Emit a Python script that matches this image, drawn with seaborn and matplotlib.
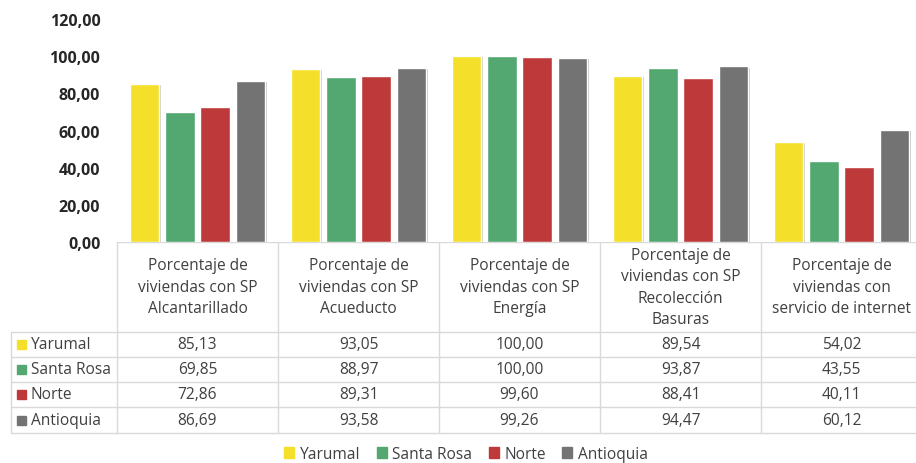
import numpy as np
import pandas as pd
import seaborn as sns
import matplotlib.pyplot as plt
from matplotlib.patches import Patch, Rectangle
from matplotlib import patheffects as pe

# ======================
# Data
# ======================
servicios = [
    "Porcentaje de\nviviendas con SP\nAlcantarillado",
    "Porcentaje de\nviviendas con SP\nAcueducto",
    "Porcentaje de\nviviendas con SP\nEnergía",
    "Porcentaje de\nviviendas con SP\nRecolección\nBasuras",
    "Porcentaje de\nviviendas con\nservicio de internet",
]
regiones = ["Yarumal", "Santa Rosa", "Norte", "Antioquia"]

yarumal = [85.13, 93.05, 100.00, 89.54, 54.02]
santa_rosa = [69.85, 88.97, 100.00, 93.87, 43.55]
norte = [72.86, 89.31, 99.60, 88.41, 40.11]
antioquia = [86.69, 93.58, 99.26, 94.47, 60.12]

y_ticks = [0, 20, 40, 60, 80, 100, 120]

colores = ["#F4DF2B", "#52A870", "#BE3A3A", "#737373"]
TXT = "#404040"
GRID = "#D9D9D9"
FS = 11.2

series = [yarumal, santa_rosa, norte, antioquia]
df = pd.DataFrame({
    "servicio": servicios * len(regiones),
    "region": np.repeat(regiones, len(servicios)),
    "valor": np.concatenate(series),
})


def fmt(v):
    return f"{v:.2f}".replace(".", ",")


# ======================
# Figure
# ======================
sns.set_style("white")
plt.rcParams["font.family"] = ["Open Sans", "DejaVu Sans"]

W, H = 916, 464
fig = plt.figure(figsize=(W / 100, H / 100), dpi=100)

# layout in pixels
X0, COLW = 117, 161
Y0, Y120 = 243, 20
ax = fig.add_axes([X0 / W, 1 - Y0 / H, COLW * 5 / W, (Y0 - Y120) / H])

sns.barplot(
    data=df, x="servicio", y="valor", hue="region",
    order=servicios, hue_order=regiones, palette=colores,
    saturation=1, width=0.875, gap=0.17, legend=False, ax=ax,
)
for bar in ax.patches:
    bar.set_path_effects([pe.SimplePatchShadow(offset=(1.2, -0.8), alpha=0.25), pe.Normal()])

ax.set_xlim(-0.5, len(servicios) - 0.5)
ax.set_ylim(0, 120)
ax.set_yticks(y_ticks)
ax.set_yticklabels([fmt(t) for t in y_ticks], fontweight="bold", color="#262626", fontsize=11.5)
ax.set_xticks([])
ax.set_xlabel("")
ax.set_ylabel("")
ax.tick_params(axis="y", length=0, pad=12)
sns.despine(ax=ax, left=True, bottom=True)

# ======================
# Data table
# ======================
tax = fig.add_axes([0, 0, 1, 1], zorder=-1)
tax.set_xlim(0, W)
tax.set_ylim(H, 0)
tax.axis("off")

row_lines = [332.7, 357.7, 383, 408, 434]
XL = 11
tax.plot([X0, W], [Y0, Y0], color=GRID, lw=1)
for y in row_lines:
    tax.plot([XL, W], [y, y], color=GRID, lw=1)
for i in range(len(servicios) + 1):
    x = X0 + i * COLW
    tax.plot([x, x], [Y0, row_lines[-1]], color=GRID, lw=1)
tax.plot([XL, XL], [row_lines[0], row_lines[-1]], color=GRID, lw=1)

for i, s in enumerate(servicios):
    tax.text(X0 + (i + 0.5) * COLW, (Y0 + row_lines[0]) / 2, s,
             ha="center", va="center", fontsize=FS, color=TXT, linespacing=1.45)

for r, (reg, vals, c) in enumerate(zip(regiones, series, colores)):
    yc = (row_lines[r] + row_lines[r + 1]) / 2
    tax.add_patch(Rectangle((17, yc - 4.5), 9, 9, color=c))
    tax.text(31, yc, reg, ha="left", va="center", fontsize=FS, color=TXT)
    for i, v in enumerate(vals):
        tax.text(X0 + (i + 0.5) * COLW, yc, fmt(v),
                 ha="center", va="center", fontsize=FS, color=TXT)

# ======================
# Legend
# ======================
handles = [Patch(color=c) for c in colores]
leg = fig.legend(
    handles, regiones, ncol=4, loc="center",
    bbox_to_anchor=(466 / W, 1 - 455 / H), frameon=False,
    handlelength=0.65, handleheight=0.65, handletextpad=0.35,
    columnspacing=1.05, fontsize=FS,
)
for t in leg.get_texts():
    t.set_color(TXT)

plt.savefig("out.png", dpi=100)
plt.close()
